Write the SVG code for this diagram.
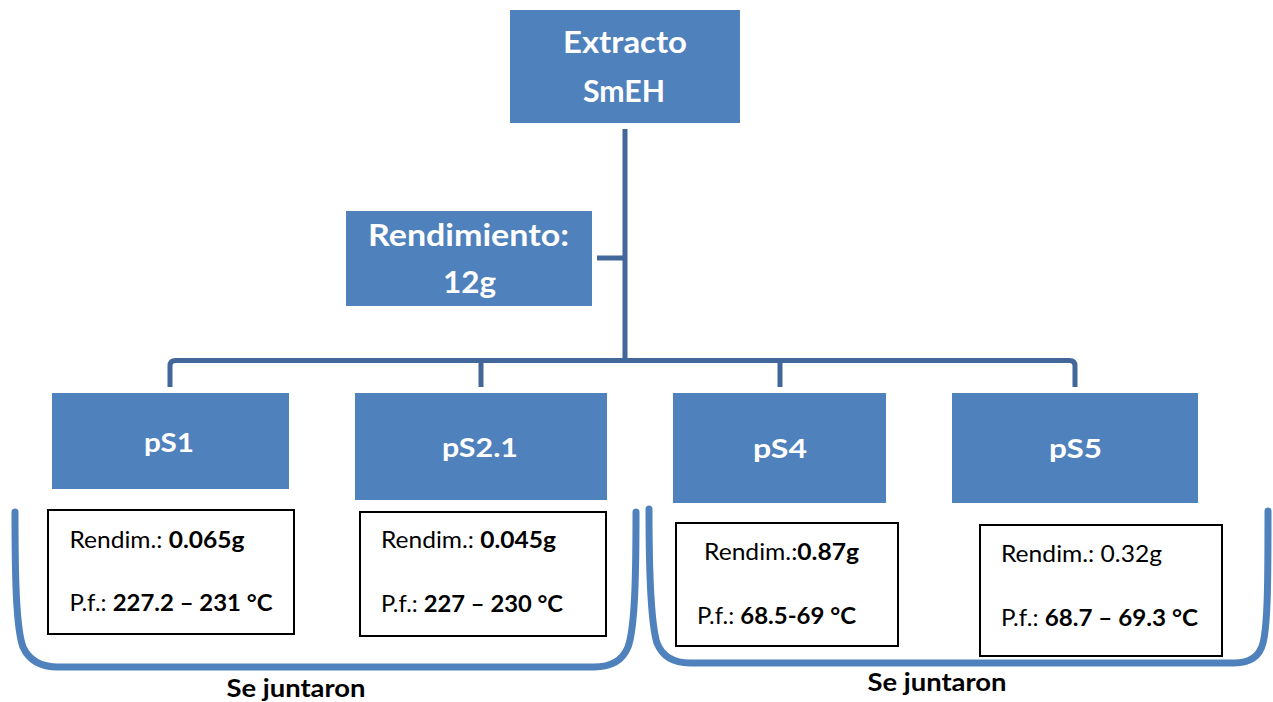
<svg xmlns="http://www.w3.org/2000/svg" width="1273" height="702" viewBox="0 0 1273 702">
<style>
.blue{fill:#4F81BD}
.head{font-family:"Lato","Liberation Sans",sans-serif;font-weight:bold;fill:#FFFFFF}
.conn{fill:none;stroke:#41679B;stroke-width:5}
.tbox{fill:#FFFFFF;stroke:#000000;stroke-width:2}
.body{font-family:"Lato","Liberation Sans",sans-serif;font-size:22.5px;fill:#000000}
.b{font-weight:bold}
.brk{fill:none;stroke:#4F81BD;stroke-width:7;stroke-linecap:round}
.note{font-family:"Lato","Liberation Sans",sans-serif;font-size:25px;font-weight:bold;fill:#000000}
</style>
<rect width="1273" height="702" fill="#FFFFFF"/>
<g id="connectors">
<line class="conn" x1="625" y1="129" x2="625" y2="363"/>
<line class="conn" x1="597" y1="258" x2="625" y2="258"/>
<path class="conn" d="M170,387 V366 Q170,360.5 175.5,360.5 H1069.5 Q1075,360.5 1075,366 V387"/>
<line class="conn" x1="481" y1="360" x2="481" y2="387"/>
<line class="conn" x1="780" y1="360" x2="780" y2="387"/>
</g>
<g id="extracto">
<rect class="blue" x="510" y="10" width="230" height="113"/>
<text class="head" x="625" y="53" font-size="30" text-anchor="middle" textLength="124" lengthAdjust="spacingAndGlyphs">Extracto</text>
<text class="head" x="624" y="102" font-size="30" text-anchor="middle" textLength="82" lengthAdjust="spacingAndGlyphs">SmEH</text>
</g>
<g id="rendimiento">
<rect class="blue" x="346" y="211" width="246" height="95"/>
<text class="head" x="468.5" y="246" font-size="30" text-anchor="middle" textLength="201" lengthAdjust="spacingAndGlyphs">Rendimiento:</text>
<text class="head" x="469.5" y="293" font-size="30" text-anchor="middle" textLength="53" lengthAdjust="spacingAndGlyphs">12g</text>
</g>
<g id="pS1">
<rect class="blue" x="52" y="393" width="237" height="96"/>
<text class="head" x="169" y="452" font-size="27" text-anchor="middle" textLength="50" lengthAdjust="spacingAndGlyphs">pS1</text>
</g>
<g id="pS2.1">
<rect class="blue" x="355" y="393" width="252" height="107"/>
<text class="head" x="480" y="457" font-size="27" text-anchor="middle" textLength="76" lengthAdjust="spacingAndGlyphs">pS2.1</text>
</g>
<g id="pS4">
<rect class="blue" x="673" y="393" width="213" height="110"/>
<text class="head" x="780" y="458" font-size="27" text-anchor="middle" textLength="54" lengthAdjust="spacingAndGlyphs">pS4</text>
</g>
<g id="pS5">
<rect class="blue" x="952" y="393" width="246" height="110"/>
<text class="head" x="1075.5" y="458" font-size="27" text-anchor="middle" textLength="53" lengthAdjust="spacingAndGlyphs">pS5</text>
</g>
<g id="box-pS1">
<rect class="tbox" x="48" y="510" width="246" height="124"/>
<text class="body" x="69.5" y="548" textLength="175" lengthAdjust="spacingAndGlyphs">Rendim.: <tspan class="b">0.065g</tspan></text>
<text class="body" x="69.5" y="611" textLength="203" lengthAdjust="spacingAndGlyphs">P.f.: <tspan class="b">227.2 – 231 °C</tspan></text>
</g>
<g id="box-pS2.1">
<rect class="tbox" x="360" y="512" width="246" height="124"/>
<text class="body" x="381" y="548" textLength="175" lengthAdjust="spacingAndGlyphs">Rendim.: <tspan class="b">0.045g</tspan></text>
<text class="body" x="381" y="612" textLength="182" lengthAdjust="spacingAndGlyphs">P.f.: <tspan class="b">227 – 230 °C</tspan></text>
</g>
<g id="box-pS4">
<rect class="tbox" x="676" y="523" width="222" height="123"/>
<text class="body" x="704" y="560" textLength="155" lengthAdjust="spacingAndGlyphs">Rendim.:<tspan class="b">0.87g</tspan></text>
<text class="body" x="697" y="624" textLength="159" lengthAdjust="spacingAndGlyphs">P.f.: <tspan class="b">68.5-69 °C</tspan></text>
</g>
<g id="box-pS5">
<rect class="tbox" x="980" y="525" width="242" height="131"/>
<text class="body" x="1001" y="562" textLength="161" lengthAdjust="spacingAndGlyphs">Rendim.: 0.32g</text>
<text class="body" x="1001" y="626" textLength="197" lengthAdjust="spacingAndGlyphs">P.f.: <tspan class="b">68.7 – 69.3 °C</tspan></text>
</g>
<g id="group-left">
<path class="brk" d="M15,512 C15,575 16,628 23,647 Q32,667 58,667 L594,667 Q620,667 628,647 C635,628 636,575 636,512"/>
<text class="note" x="296" y="697" text-anchor="middle" textLength="139" lengthAdjust="spacingAndGlyphs">Se juntaron</text>
</g>
<g id="group-right">
<path class="brk" d="M649,509 C649,572 651,624 657,643 Q665,663 690,663 L1234,663 Q1258,663 1263,643 C1268,624 1268,572 1268,511"/>
<text class="note" x="937" y="691" text-anchor="middle" textLength="139" lengthAdjust="spacingAndGlyphs">Se juntaron</text>
</g>
</svg>
